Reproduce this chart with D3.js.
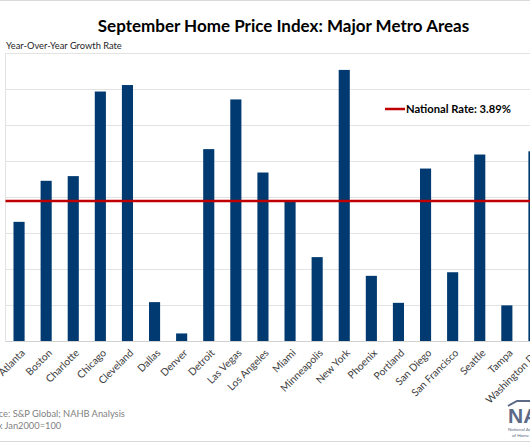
<!DOCTYPE html>
<html>
<head>
<meta charset="utf-8">
<script src="https://cdn.jsdelivr.net/npm/d3@7"></script>
<style>
  html, body { margin: 0; padding: 0; background: #fff; overflow: hidden; }
  svg { display: block; }
</style>
</head>
<body>
<div id="chart"></div>
<script>
const categories = ["Atlanta","Boston","Charlotte","Chicago","Cleveland","Dallas","Denver","Detroit","Las Vegas","Los Angeles","Miami","Minneapolis","New York","Phoenix","Portland","San Diego","San Francisco","Seattle","Tampa","Washington DC"];
const growthRates = [3.31, 4.45, 4.58, 6.93, 7.11, 1.08, 0.21, 5.33, 6.71, 4.68, 3.87, 2.33, 7.53, 1.81, 1.06, 4.79, 1.91, 5.18, 0.99, 5.27];
const nationalRate = 3.89;
const yTicks = [0, 1, 2, 3, 4, 5, 6, 7, 8];
const titleText = "September Home Price Index: Major Metro Areas";
const yAxisTitle = "Year-Over-Year Growth Rate";
const legendText = "National Rate: 3.89%";
const notes = ["Source: S&P Global; NAHB Analysis", "Index Jan2000=100"];

const W = 530, H = 442;
const font = "Lato, 'Open Sans', sans-serif";
const svg = d3.select("#chart").append("svg").attr("width", W).attr("height", H)
  .style("font-family", font);

const plot = {left: 5.5, right: 547.5, top: 53, bottom: 341};
const x = d3.scaleBand().domain(categories).range([plot.left, plot.right]).paddingInner(0.59).paddingOuter(0.295);
const y = d3.scaleLinear().domain([0, 8]).range([plot.bottom, plot.top]);

// frame lines
svg.append("line").attr("x1", 0).attr("x2", W).attr("y1", 0.5).attr("y2", 0.5).attr("stroke", "#d9d9d9");
svg.append("line").attr("x1", 0).attr("x2", W).attr("y1", 441.5).attr("y2", 441.5).attr("stroke", "#d9d9d9");

// gridlines
svg.append("g").selectAll("line").data(yTicks).join("line")
  .attr("x1", plot.left).attr("x2", plot.right)
  .attr("y1", d => Math.round(y(d)) + 0.5).attr("y2", d => Math.round(y(d)) + 0.5)
  .attr("stroke", d => d === 0 ? "#d0d0d0" : "#e3e3e3").attr("stroke-width", 1);
svg.append("line").attr("x1", 5.5).attr("x2", 5.5).attr("y1", plot.top).attr("y2", plot.bottom)
  .attr("stroke", "#e3e3e3");

// bars
svg.append("g").selectAll("rect").data(categories).join("rect")
  .attr("x", d => x(d)).attr("width", x.bandwidth())
  .attr("y", (d, i) => y(growthRates[i])).attr("height", (d, i) => y(0) - y(growthRates[i]))
  .attr("fill", "#003a70");

// national rate line
svg.append("line").attr("x1", plot.left).attr("x2", plot.right)
  .attr("y1", y(nationalRate)).attr("y2", y(nationalRate))
  .attr("stroke", "#c00000").attr("stroke-width", 2.5);

// x labels
svg.append("g").selectAll("text").data(categories).join("text")
  .attr("transform", d => `translate(${x(d) + x.bandwidth() / 2 + 4},${plot.bottom + 10}) rotate(-45)`)
  .attr("text-anchor", "end").attr("dy", "0.35em")
  .attr("font-size", 10.3).attr("fill", "#404040").text(d => d);

// title
svg.append("text").attr("x", 283.5).attr("y", 32).attr("text-anchor", "middle")
  .attr("font-size", 17).attr("font-weight", "bold").attr("fill", "#000").text(titleText);
svg.append("text").attr("x", 6).attr("y", 49).attr("font-size", 9.3).attr("fill", "#262626").text(yAxisTitle);

// legend
svg.append("line").attr("x1", 385).attr("x2", 405).attr("y1", 109).attr("y2", 109)
  .attr("stroke", "#c00000").attr("stroke-width", 2.5);
svg.append("text").attr("x", 406).attr("y", 113).attr("font-size", 11.2).attr("font-weight", "bold")
  .attr("fill", "#000").text(legendText);

// notes
svg.append("g").selectAll("text").data(notes).join("text")
  .attr("x", -20).attr("y", (d, i) => 416.5 + i * 12.5)
  .attr("font-size", 9.3).attr("fill", "#7f7f7f").text(d => d);

// logo
const logo = svg.append("g");
logo.append("path").attr("d", "M508,406 L517,401 L534,401").attr("fill", "none")
  .attr("stroke", "#5b6b87").attr("stroke-width", 2);
logo.append("text").attr("x", 508).attr("y", 423).attr("font-size", 21).attr("font-weight", "900")
  .attr("fill", "#5b6b87").attr("font-family", "'Liberation Sans', Arial, sans-serif").text("NAHB");
logo.append("text").attr("x", 508).attr("y", 430.5).attr("font-size", 4.5).attr("fill", "#5b6b87").text("National Association");
logo.append("text").attr("x", 512).attr("y", 436.5).attr("font-size", 4.5).attr("fill", "#5b6b87").text("of Home Builders");
</script>
</body>
</html>
